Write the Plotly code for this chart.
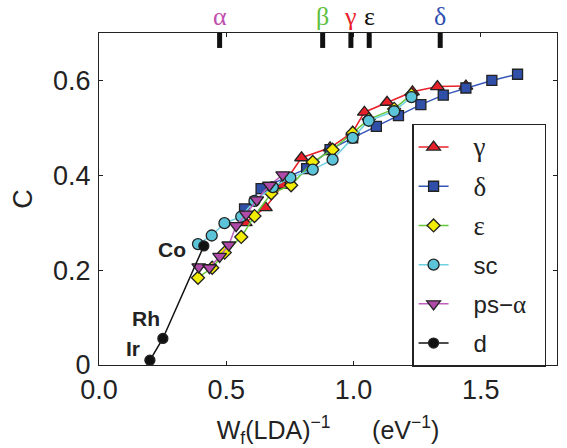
import plotly.graph_objects as go

# ---- data ----
gamma_x = [0.575, 0.654, 0.722, 0.796, 0.908, 0.997, 1.043, 1.132, 1.232, 1.330, 1.442]
gamma_y = [0.300, 0.332, 0.379, 0.437, 0.458, 0.491, 0.533, 0.554, 0.576, 0.587, 0.588]
delta_x = [0.572, 0.637, 0.816, 0.908, 0.997, 1.090, 1.177, 1.265, 1.353, 1.442, 1.544, 1.645]
delta_y = [0.329, 0.372, 0.414, 0.454, 0.479, 0.503, 0.526, 0.549, 0.569, 0.584, 0.600, 0.613]
eps_x = [0.389, 0.445, 0.494, 0.559, 0.611, 0.677, 0.755, 0.840, 0.918, 0.997, 1.060, 1.160, 1.228]
eps_y = [0.184, 0.205, 0.237, 0.270, 0.314, 0.362, 0.379, 0.428, 0.454, 0.489, 0.518, 0.540, 0.570]
sc_x = [0.389, 0.443, 0.493, 0.559, 0.611, 0.683, 0.752, 0.840, 0.918, 0.997, 1.060, 1.160, 1.228]
sc_y = [0.255, 0.273, 0.299, 0.313, 0.346, 0.375, 0.395, 0.412, 0.433, 0.479, 0.515, 0.535, 0.565]
psa_x = [0.392, 0.434, 0.474, 0.510, 0.539, 0.578, 0.620, 0.670, 0.722]
psa_y = [0.207, 0.205, 0.229, 0.253, 0.294, 0.318, 0.348, 0.379, 0.401]
d_x = [0.200, 0.251, 0.412]
d_y = [0.010, 0.056, 0.251]
d_labels = ["Ir", "Rh", "Co"]

phase_names = ["α", "β", "γ", "ε", "δ"]
phase_x = [0.474, 0.879, 0.990, 1.062, 1.341]
phase_colors = ["#c04fb0", "#5cc040", "#e8202a", "#111111", "#2f4fb0"]

x_ticks = [0.0, 0.5, 1.0, 1.5]
x_ticklabels = ["0.0", "0.5", "1.0", "1.5"]
y_ticks = [0.0, 0.2, 0.4, 0.6]
y_ticklabels = ["0", "0.2", "0.4", "0.6"]

SERIF = "Liberation Serif"
NB = "\u00a0"
def greek(s, size=None):
    if size:
        return '<span style="font-family:%s;font-size:%dpx">%s</span>' % (SERIF, size, s)
    return '<span style="font-family:%s">%s</span>' % (SERIF, s)

fig = go.Figure()

series = [
    (greek("γ", 27), gamma_x, gamma_y, "#e8202a", "#e8202a", "triangle-up", 12),
    (greek("δ", 27), delta_x, delta_y, "#3355b8", "#2f4fa8", "square", 10),
    (greek("ε", 27), eps_x, eps_y, "#66c83a", "#f2ec00", "diamond", 10),
    ("sc", sc_x, sc_y, "#6fd0e2", "#5cc4d8", "circle", 11),
    ("ps−" + greek("α", 25), psa_x, psa_y, "#c060c0", "#b04aa8", "triangle-down", 12),
    ("d", d_x, d_y, "#111111", "#111111", "circle", 10),
]

for i, (name, xs, ys, lc, fc, sym, sz) in enumerate(series):
    fig.add_trace(go.Scatter(
        x=xs, y=ys, name=NB * 3 + name + NB * 2, mode="lines+markers",
        line=dict(color=lc, width=1.5),
        marker=dict(symbol=sym, size=sz, color=fc,
                    line=dict(color="#222222", width=1.3)),
        legendgroup="g%d" % i,
    ))

# d labels
shifts = {"Ir": (-8, 12), "Rh": (-1, 20), "Co": (-16, -4)}
for x, y, t in zip(d_x, d_y, d_labels):
    dx, dy = shifts[t]
    fig.add_annotation(x=x, y=y, text="<b>%s</b>" % t, showarrow=False,
                       xanchor="right", yanchor="middle", xshift=dx, yshift=dy,
                       font=dict(family="Liberation Sans", size=21, color="#222222"))

# top phase markers
for x, n, c in zip(phase_x, phase_names, phase_colors):
    fig.add_shape(type="line", xref="x", yref="paper", x0=x, x1=x, y0=1.0, y1=0.955,
                  line=dict(color="#111111", width=5))
    fig.add_annotation(x=x, y=1.05, xref="x", yref="paper", text=n, showarrow=False,
                       yanchor="middle", font=dict(family=SERIF, size=26, color=c))

axis_common = dict(showline=True, linecolor="#222222", linewidth=1.3, mirror="ticks",
                   ticks="inside", ticklen=4, tickwidth=1, tickcolor="#222222",
                   showgrid=False, zeroline=False,
                   tickfont=dict(family="Liberation Sans", size=27, color="#222222"))

fig.update_xaxes(range=[0, 1.8], tickvals=x_ticks, ticktext=x_ticklabels,
                 title=dict(text="W<sub>f</sub>(LDA)<sup>−1</sup>      (eV<sup>−1</sup>)",
                            font=dict(family="Liberation Sans", size=25, color="#222222"),
                            standoff=17),
                 **axis_common)
fig.update_yaxes(range=[0, 0.7], tickvals=y_ticks, ticktext=y_ticklabels,
                 ticklabelstandoff=2,
                 title=dict(text="C", font=dict(family="Liberation Sans", size=27, color="#222222"),
                            standoff=12),
                 **axis_common)

fig.update_layout(
    width=567, height=448,
    margin=dict(l=99, r=10, t=33, b=83, autoexpand=False),
    plot_bgcolor="white", paper_bgcolor="white",
    showlegend=True,
    legend=dict(x=0.684, y=0.727, xanchor="left", yanchor="top",
                bgcolor="white", bordercolor="#222222", borderwidth=1.3,
                font=dict(family="Liberation Sans", size=24, color="#222222"),
                traceorder="grouped", tracegroupgap=5, itemsizing="trace"),
)

fig.write_html("out.html", config={"displayModeBar": False},
               post_script="document.body.style.margin='0';")
